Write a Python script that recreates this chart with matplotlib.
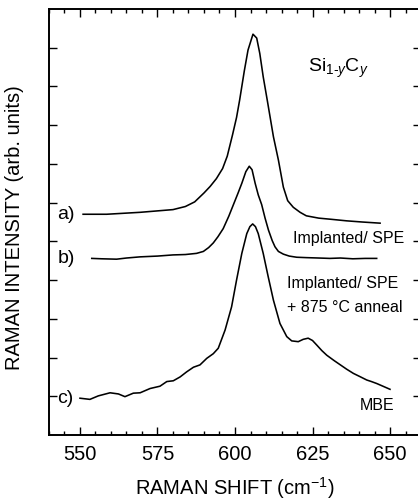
import matplotlib
matplotlib.use('Agg')
import matplotlib.pyplot as plt
from matplotlib.ticker import MultipleLocator

plt.rcParams['font.family'] = ['Liberation Sans', 'DejaVu Sans']
plt.rcParams['mathtext.fontset'] = 'custom'
plt.rcParams['mathtext.rm'] = 'Liberation Sans'
plt.rcParams['mathtext.it'] = 'Liberation Sans:italic'
plt.rcParams['mathtext.bf'] = 'Liberation Sans:bold'

# curve a) Implanted/ SPE (offset upward)
shift_a = [551, 558.6, 569.4, 580, 584, 587, 590, 592, 594, 596, 597.5, 599.2, 600.5, 601.5, 603, 604.2,
           605.8, 607, 608, 609.1, 610.5, 612.4, 614, 615.6, 617, 618.8, 621, 623, 627, 631, 636, 641, 646.8]
int_a = [5.70, 5.70, 5.75, 5.82, 5.90, 6.02, 6.25, 6.42, 6.62, 6.88, 7.20, 7.75, 8.20, 8.65, 9.40, 9.94,
         10.35, 10.25, 9.85, 9.25, 8.60, 7.70, 7.10, 6.40, 6.05, 5.88, 5.75, 5.66, 5.60, 5.57, 5.53, 5.50, 5.47]

# curve b) Implanted/ SPE + 875 C anneal
shift_b = [553.8, 557, 561.8, 565, 569.4, 575, 580, 584, 587.6, 589.8, 591.5, 593, 594.5, 596.2, 598,
           599.5, 601, 602.2, 603.5, 604.6, 605.5, 606.5, 607.5, 608.6, 609.7, 610.8, 612, 612.9, 614,
           615.6, 617.5, 619.9, 623, 627, 630.6, 634, 638, 642, 645.7]
int_b = [4.56, 4.55, 4.54, 4.57, 4.60, 4.62, 4.65, 4.66, 4.69, 4.74, 4.84, 4.96, 5.12, 5.33, 5.65,
         5.95, 6.25, 6.50, 6.80, 6.94, 6.85, 6.50, 6.20, 5.95, 5.60, 5.29, 5.02, 4.86, 4.74,
         4.67, 4.62, 4.59, 4.58, 4.57, 4.56, 4.57, 4.55, 4.56, 4.56]

# curve c) MBE
shift_c = [550, 553.2, 555.9, 559.7, 562.4, 564.5, 567.2, 569.4, 572.6, 575.8, 578, 580.1, 582.3, 584.4,
           586.6, 588.7, 590.9, 593, 594.6, 596.8, 598.9, 600.5, 602.2, 603.8, 604.8, 605.7, 606.6, 607.5,
           609.1, 610.7, 612.4, 614.5, 616.7, 618.3, 620.4, 622, 623.6, 625, 626.4, 628, 629.6, 632,
           634, 636, 638.2, 640.5, 642.5, 644, 645.7, 648, 650]
int_c = [0.95, 0.92, 1.01, 1.09, 1.06, 0.99, 1.08, 1.09, 1.20, 1.26, 1.38, 1.40, 1.50, 1.63,
         1.75, 1.81, 1.98, 2.10, 2.24, 2.71, 3.31, 4.00, 4.69, 5.20, 5.38, 5.45, 5.38, 5.20,
         4.69, 4.09, 3.48, 2.88, 2.54, 2.43, 2.41, 2.47, 2.50, 2.44, 2.32, 2.18, 2.06, 1.92,
         1.81, 1.70, 1.59, 1.50, 1.42, 1.38, 1.33, 1.25, 1.18]

fig = plt.figure(figsize=(4.18, 5.0), dpi=100)
ax = fig.add_axes([0.1172, 0.13, 0.89, 0.852])

for xs, ys in [(shift_a, int_a), (shift_b, int_b), (shift_c, int_c)]:
    ax.plot(xs, ys, color='black', linewidth=1.15)

ax.set_xlim(540, 660)
ax.set_ylim(0, 11)
ax.xaxis.set_major_locator(MultipleLocator(25))
ax.xaxis.set_minor_locator(MultipleLocator(5))
ax.set_yticks(range(1, 11))
ax.set_yticklabels([])
ax.tick_params(which='both', direction='in', top=True, right=True, width=1.0)
ax.tick_params(which='major', length=6)
ax.tick_params(which='minor', length=3)
ax.tick_params(axis='x', labelsize=14.5, pad=7)
for s in ax.spines.values():
    s.set_linewidth(1.4)

ax.set_xlabel('RAMAN SHIFT (cm$^{-1}$)', fontsize=14.5)
ax.xaxis.set_label_coords(0.5, -0.093)
ax.xaxis.label.set_va('top')
ax.set_ylabel('RAMAN INTENSITY (arb. units)', fontsize=14.5)
ax.yaxis.set_label_coords(-0.066, 0.486)

ax.text(633.2, 9.47, r'Si$_{1\text{-}y}$C$_{y}$', fontsize=14, ha='center', va='center')
ax.text(636.5, 5.08, 'Implanted/ SPE', fontsize=11.5, ha='center', va='center')
ax.text(634.8, 3.92, 'Implanted/ SPE', fontsize=11.5, ha='center', va='center')
ax.text(635.5, 3.30, '+ 875 °C anneal', fontsize=11.5, ha='center', va='center')
ax.text(645.8, 0.77, 'MBE', fontsize=11.5, ha='center', va='center')
ax.text(545.5, 5.70, 'a)', fontsize=14, ha='center', va='center')
ax.text(545.5, 4.57, 'b)', fontsize=14, ha='center', va='center')
ax.text(545.2, 0.95, 'c)', fontsize=14, ha='center', va='center')

fig.savefig('out.png', dpi=100)
